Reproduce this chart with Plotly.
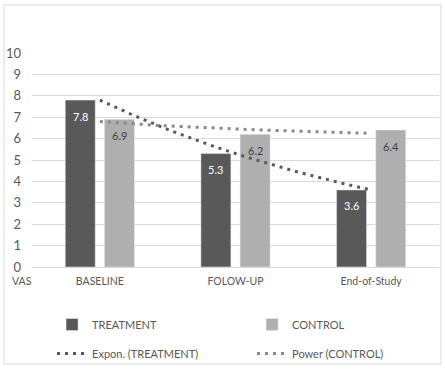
import numpy as np
import plotly.graph_objects as go

categories = ["BASELINE", "FOLOW-UP", "End-of-Study"]
treatment = [7.8, 5.3, 3.6]
control = [6.9, 6.2, 6.4]
y_ticks = list(range(0, 11))

FONT = "Lato, Noto Sans, sans-serif"
TXT = "#595959"
DARK = "#595959"
LIGHT = "#afafaf"

xpos = np.arange(len(categories))
xs = np.linspace(0, len(categories) - 1, 200)

# Exponential trend (TREATMENT): ln y = a + b x, x = 1..n
n = np.arange(1, len(categories) + 1)
b_e, a_e = np.polyfit(n, np.log(treatment), 1)
exp_y = np.exp(a_e + b_e * (xs + 1))
# Power trend (CONTROL): ln y = a + b ln x
b_p, a_p = np.polyfit(np.log(n), np.log(control), 1)
pow_y = np.exp(a_p) * (xs + 1) ** b_p

BW = 0.221   # bar width (category units)
OFF_T = -0.255
OFF_C = 0.034

fig = go.Figure()
fig.add_trace(go.Bar(x=xpos, y=treatment, name="TREATMENT", marker_color=DARK,
                     width=BW, offset=OFF_T, legend="legend"))
fig.add_trace(go.Bar(x=xpos, y=control, name="CONTROL", marker_color=LIGHT,
                     width=BW, offset=OFF_C, legend="legend"))
fig.add_trace(go.Scatter(x=xs, y=exp_y, mode="lines", name="Expon. (TREATMENT)",
                         line=dict(color=DARK, width=3, dash="3px,5px"), legend="legend2"))
fig.add_trace(go.Scatter(x=xs, y=pow_y, mode="lines", name="Power (CONTROL)",
                         line=dict(color="#8a8a8a", width=3, dash="3px,5px"), legend="legend2"))

# plot area: x 32..439, y 53..267
L, R, T, B = 32, 6, 53, 103
pw, ph = 445 - L - R, 370 - T - B

annotations = []
for i, v in enumerate(treatment):
    annotations.append(dict(x=i + OFF_T + BW / 2, y=v, xref="x", yref="y", text=f"{v:.1f}",
                            showarrow=False, yanchor="middle", yshift=-16,
                            font=dict(size=11, color="white")))
for i, v in enumerate(control):
    annotations.append(dict(x=i + OFF_C + BW / 2, y=v, xref="x", yref="y", text=f"{v:.1f}",
                            showarrow=False, yanchor="middle", yshift=-16,
                            font=dict(size=11, color="#404040")))
annotations.append(dict(text="VAS", xref="paper", yref="paper",
                        x=(22 - L) / pw, y=-(281 - 267) / ph, showarrow=False,
                        xanchor="center", yanchor="middle", font=dict(size=10.5, color=TXT)))

leg_common = dict(orientation="h", xref="container", yref="container",
                  x=0.117, xanchor="left", yanchor="top",
                  entrywidth=155, entrywidthmode="pixels",
                  font=dict(size=11, color=TXT, family=FONT),
                  bgcolor="rgba(0,0,0,0)")

fig.update_layout(
    width=445, height=370,
    margin=dict(l=L, r=R, t=T, b=B),
    paper_bgcolor="white", plot_bgcolor="white",
    font=dict(family=FONT, size=12, color=TXT),
    barmode="overlay",
    showlegend=True,
    legend=dict(leg_common, y=1 - 310 / 370),
    legend2=dict(leg_common, y=1 - 339 / 370),
    xaxis=dict(range=[-0.5, 2.5], tickvals=list(xpos), ticktext=categories,
               showgrid=False, zeroline=False, showline=True, linecolor="#d9d9d9",
               ticks="", ticklabelstandoff=4, tickfont=dict(size=10.5, color=TXT), fixedrange=True),
    yaxis=dict(range=[0, 10], tickvals=y_ticks, showgrid=True, gridcolor="#d9d9d9",
               zeroline=False, showline=False, ticks="", ticklabelstandoff=10,
               tickfont=dict(size=13, color=TXT)),
    shapes=[dict(type="rect", xref="paper", yref="paper",
                 x0=(4 - L) / pw, x1=(441 - L) / pw,
                 y0=(370 - B - 364) / ph, y1=(370 - B - 5) / ph,
                 line=dict(color="#d9d9d9", width=1), layer="below")],
    annotations=annotations,
)

fig.write_html("out.html", config={"displayModeBar": False},
               post_script="document.body.style.margin='0';")
